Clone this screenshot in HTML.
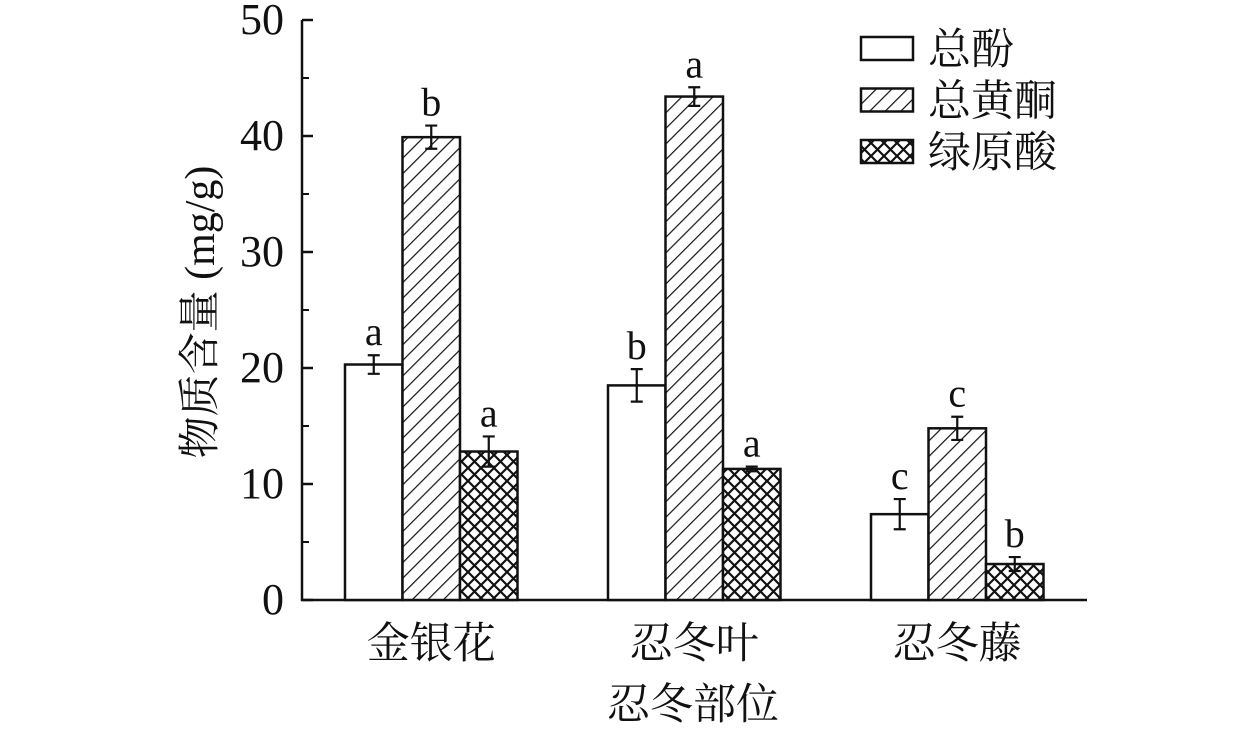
<!DOCTYPE html>
<html><head><meta charset="utf-8"><style>
body{margin:0;background:#fff}
svg text{font-family:"Liberation Serif","Noto Serif CJK SC",serif;fill:#111}
</style></head><body>
<svg width="1260" height="732" xmlns="http://www.w3.org/2000/svg">
<defs>
<pattern id="hatch" patternUnits="userSpaceOnUse" width="11" height="11" patternTransform="rotate(45)">
<rect width="11" height="11" fill="#fff"/><line x1="0" y1="0" x2="0" y2="11" stroke="#111" stroke-width="2.4"/></pattern>
<pattern id="cross" patternUnits="userSpaceOnUse" width="13" height="13">
<rect width="13" height="13" fill="#fff"/><path d="M0 0L13 13M13 0L0 13" stroke="#111" stroke-width="2.2"/></pattern>
</defs>
<g id="plot"></g>
</svg>
<script>
const categories=["金银花","忍冬叶","忍冬藤"];
const seriesNames=["总酚","总黄酮","绿原酸"];
const phenol=[20.3,18.5,7.4];
const flavone=[39.9,43.4,14.8];
const chlorogenic=[12.8,11.3,3.1];
const phenolErr=[0.8,1.4,1.3];
const flavoneErr=[1.0,0.8,1.0];
const chlorogenicErr=[1.3,0.2,0.6];
const phenolLetters=["a","b","c"];
const flavoneLetters=["b","a","c"];
const chlorogenicLetters=["a","a","b"];
const yTicks=[0,10,20,30,40,50];

const NS="http://www.w3.org/2000/svg";
const g=document.getElementById("plot");
const y0=600,pxPer=11.6;
const yS=v=>y0-v*pxPer;
const groupStart=[345,608,871],bw=57.5;
function mk(t,a){const e=document.createElementNS(NS,t);for(const k in a)e.setAttribute(k,a[k]);g.appendChild(e);return e;}
let ax=mk("path",{d:`M302 ${yS(50)}V${y0}H1087`,stroke:"#111","stroke-width":2.5,fill:"none"});


yTicks.forEach(v=>{
  const t=mk("line",{x1:302,x2:313,y1:yS(v),y2:yS(v),stroke:"#111","stroke-width":2.5});
  
  
  if(v<50){const m=mk("line",{x1:302,x2:309,y1:yS(v+5),y2:yS(v+5),stroke:"#111","stroke-width":2});
  
  }
  const l=mk("text",{x:284,y:yS(v)+14,"text-anchor":"end","font-size":44});
  l.textContent=v;
  
  
});
const series=[[phenol,phenolErr,phenolLetters,"#fff"],[flavone,flavoneErr,flavoneLetters,"url(#hatch)"],[chlorogenic,chlorogenicErr,chlorogenicLetters,"url(#cross)"]];
categories.forEach((c,i)=>{
  series.forEach((s,j)=>{
    const x=groupStart[i]+j*bw,v=s[0][i],e=s[1][i];
    const r=mk("rect",{x:x,y:yS(v),width:bw,height:y0-yS(v),fill:s[3],stroke:"#111","stroke-width":2.5});
    
    
    const cx=x+bw/2;
    const eb=mk("path",{d:`M${cx} ${yS(v+e)}V${yS(v-e)}M${cx-6} ${yS(v+e)}H${cx+6}M${cx-6} ${yS(v-e)}H${cx+6}`,stroke:"#111","stroke-width":2.2,fill:"none"});
    
    
    const lt=mk("text",{x:cx,y:yS(v+e)-10,"text-anchor":"middle","font-size":40});
    lt.textContent=s[2][i];
    
    
  });
  const cl=mk("text",{x:groupStart[i]+bw*1.5,y:658,"text-anchor":"middle","font-size":43});
  cl.textContent=c;
  
  
});
const xt=mk("text",{x:693,y:719,"text-anchor":"middle","font-size":43});
xt.textContent="忍冬部位";


const yt=mk("text",{x:0,y:0,"text-anchor":"middle","font-size":42,transform:"translate(214 312) rotate(-90)"});
yt.textContent="物质含量 (mg/g)";


const fills=["#fff","url(#hatch)","url(#cross)"];
seriesNames.forEach((n,j)=>{
  const yy=37+j*51.5;
  const b=mk("rect",{x:861,y:yy,width:52,height:23,fill:fills[j],stroke:"#111","stroke-width":2.5});
  
  
  const t=mk("text",{x:928,y:yy+27,"font-size":43});
  t.textContent=n;
  
  
});
</script>
</body></html>
